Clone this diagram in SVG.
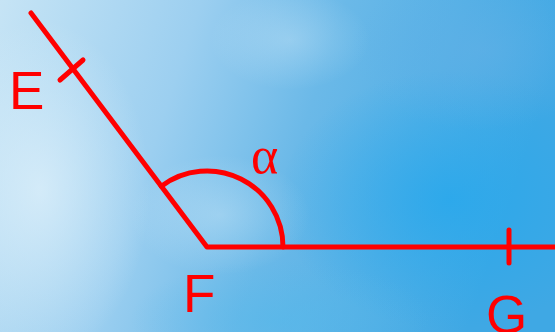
<svg xmlns="http://www.w3.org/2000/svg" width="555" height="332" viewBox="0 0 555 332">
<defs>
<linearGradient id="sky" x1="0" y1="0" x2="1" y2="0.2">
<stop offset="0" stop-color="#c6e4f5"/>
<stop offset="0.35" stop-color="#9ccff0"/>
<stop offset="0.6" stop-color="#6bb9e8"/>
<stop offset="1" stop-color="#3fa8e4"/>
</linearGradient>
<radialGradient id="deep" cx="0.5" cy="0.5" r="0.5">
<stop offset="0" stop-color="#28a8ec" stop-opacity="0.85"/>
<stop offset="1" stop-color="#28a8ec" stop-opacity="0"/>
</radialGradient>
<radialGradient id="cloud" cx="0.5" cy="0.5" r="0.5">
<stop offset="0" stop-color="#e2f2fb" stop-opacity="0.7"/>
<stop offset="1" stop-color="#e2f2fb" stop-opacity="0"/>
</radialGradient>
<radialGradient id="haze" cx="0.5" cy="0.5" r="0.5">
<stop offset="0" stop-color="#62b0e6" stop-opacity="0.6"/>
<stop offset="1" stop-color="#62b0e6" stop-opacity="0"/>
</radialGradient>
<radialGradient id="lowblue" cx="0.5" cy="0.5" r="0.5">
<stop offset="0" stop-color="#55b8ea" stop-opacity="0.6"/>
<stop offset="1" stop-color="#55b8ea" stop-opacity="0"/>
</radialGradient>
</defs>
<style>
.ln{stroke:#ff0000;stroke-width:5;fill:none;stroke-linecap:round;stroke-linejoin:round}
.lbl{font-family:"Liberation Sans",Arial,sans-serif;font-size:53px;fill:#ff0000}
.greek{font-family:"Liberation Serif","Times New Roman",serif;font-size:52px;fill:#ff0000}
</style>
<g id="background">
<rect width="555" height="332" fill="url(#sky)"/>
<ellipse cx="450" cy="200" rx="170" ry="130" fill="url(#deep)"/>
<ellipse cx="480" cy="50" rx="130" ry="80" fill="url(#haze)"/>
<ellipse cx="280" cy="320" rx="150" ry="60" fill="url(#lowblue)"/>
<ellipse cx="40" cy="190" rx="110" ry="170" fill="url(#cloud)"/>
<ellipse cx="220" cy="215" rx="90" ry="60" fill="url(#cloud)" opacity="0.45"/>
<ellipse cx="290" cy="40" rx="80" ry="50" fill="url(#cloud)" opacity="0.4"/>
</g>
<g id="connectors">
<path class="ln" d="M31,13 L207,247 L556,247"/>
<line class="ln" x1="60" y1="80" x2="83" y2="60"/>
<line class="ln" x1="509" y1="230" x2="509" y2="263"/>
<path class="ln" d="M161.3,186.2 A76,76 0 0 1 283,247"/>
</g>
<g id="node-E"><text class="lbl" x="9" y="109">E</text></g>
<g id="node-F"><text class="lbl" x="183" y="312">F</text></g>
<g id="node-G"><text class="lbl" x="486" y="333">G</text></g>
<g id="label-alpha"><text class="greek" x="251" y="173">α</text></g>
</svg>
